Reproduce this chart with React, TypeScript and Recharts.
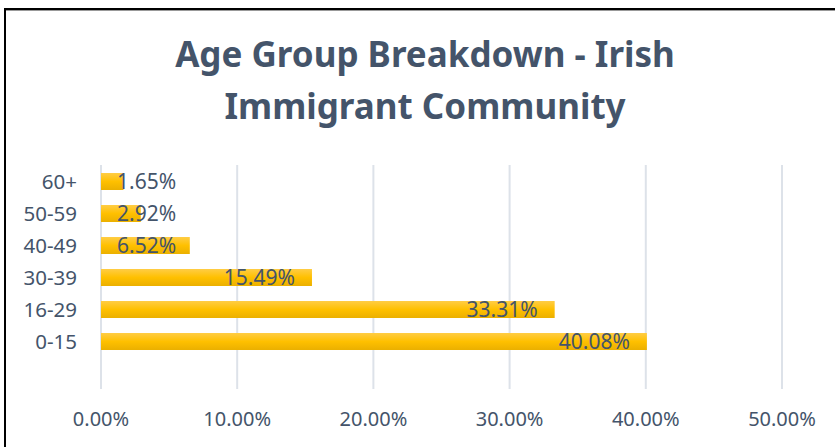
import { BarChart, Bar, XAxis, YAxis, CartesianGrid, LabelList } from "recharts";

const groups = ["60+", "50-59", "40-49", "30-39", "16-29", "0-15", ""];
const shares: (number | null)[] = [1.65, 2.92, 6.52, 15.49, 33.31, 40.08, null];
const xTicks = [0, 10, 20, 30, 40, 50];

const data = groups.map((g, i) => ({ group: g, share: shares[i] }));

const TEXT = "#44546A";
const FONT = "'Noto Sans', sans-serif";
const LABEL_SIZE = 21;

// rough Noto Sans advance widths, for placing the labels
function textWidth(s: string, fs: number) {
  let w = 0;
  for (const c of s) {
    if (c === ".") w += 0.266;
    else if (c === "%") w += 0.838;
    else w += 0.572;
  }
  return w * fs;
}

function ShareLabel(props: any) {
  const { x, y, width, height, value } = props;
  if (value == null) return null;
  const txt = value.toFixed(2) + "%";
  const tw = textWidth(txt, LABEL_SIZE);
  const end = x + width - 17;
  const minEnd = x + 16 + tw;
  const right = Math.max(end, minEnd);
  return (
    <text
      x={right}
      y={y + height / 2 + LABEL_SIZE * 0.357}
      textAnchor="end"
      fill={TEXT}
      fontSize={LABEL_SIZE}
      fontFamily={FONT}
    >
      {txt}
    </text>
  );
}

export default function App() {
  return (
    <div
      style={{
        position: "absolute",
        left: 0,
        top: 0,
        width: 835,
        height: 447,
        background: "#fff",
        overflow: "hidden",
        fontFamily: FONT,
      }}
    >
      <div style={{ position: "absolute", left: 4, top: 8, width: 2, height: 439, background: "#000" }} />
      <div style={{ position: "absolute", left: 4, top: 8, width: 831, height: 2, background: "#000" }} />
      <div style={{ position: "absolute", left: 6, top: 10, width: 829, height: 1, background: "#999" }} />

      <div style={{ position: "absolute", left: 0, top: 0 }}>
        <BarChart
          width={835}
          height={447}
          data={data}
          layout="vertical"
          barSize={17}
          margin={{ top: 165, right: 53, bottom: 0, left: 0 }}
        >
          <defs>
            <linearGradient id="gold" x1="0" y1="0" x2="0" y2="1">
              <stop offset="0%" stopColor="#FFCD45" />
              <stop offset="50%" stopColor="#FFC000" />
              <stop offset="100%" stopColor="#EBB000" />
            </linearGradient>
          </defs>
          <CartesianGrid horizontal={false} stroke="#DDE2E9" strokeWidth={2} />
          <XAxis
            type="number"
            domain={[0, 50]}
            ticks={xTicks}
            interval={0}
            height={58}
            axisLine={false}
            tickLine={false}
            tickMargin={17}
            tickFormatter={(v: number) => v.toFixed(2) + "%"}
            tick={{ fill: TEXT, fontSize: 20, fontFamily: FONT }}
          />
          <YAxis
            type="category"
            dataKey="group"
            width={101}
            interval={0}
            axisLine={false}
            tickLine={false}
            tickMargin={18}
            tick={{ fill: TEXT, fontSize: 20.5, fontFamily: FONT, dy: 1 }}
          />
          <Bar dataKey="share" fill="url(#gold)" isAnimationActive={false}>
            <LabelList dataKey="share" content={ShareLabel} />
          </Bar>
        </BarChart>
      </div>

      <div
        style={{
          position: "absolute",
          left: 0,
          top: 28,
          width: 850,
          textAlign: "center",
          color: TEXT,
          fontWeight: 700,
          fontSize: 35,
          lineHeight: "52px",
        }}
      >
        Age Group Breakdown - Irish
        <br />
        Immigrant Community
      </div>
    </div>
  );
}
